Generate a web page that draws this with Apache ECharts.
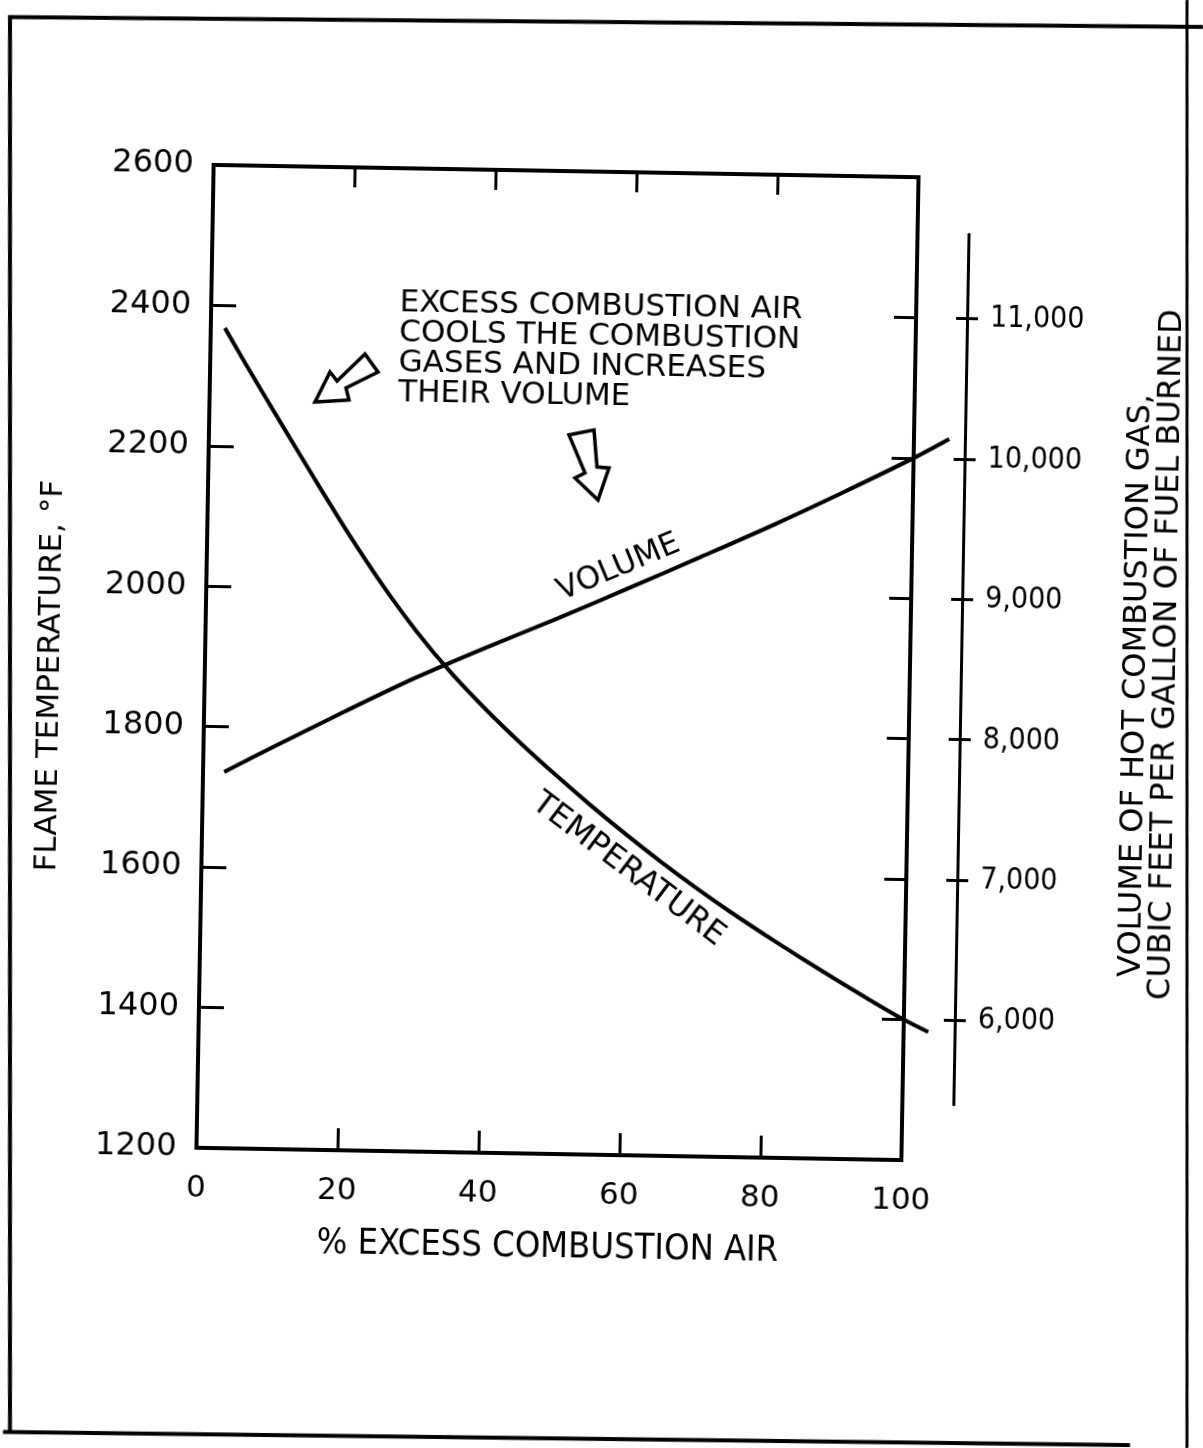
<!DOCTYPE html>
<html>
<head>
<meta charset="utf-8">
<script src="https://cdn.jsdelivr.net/npm/echarts@6/dist/echarts.min.js"></script>
<style>
  html, body { margin: 0; padding: 0; background: #fff; overflow: hidden; }
  /* the printed sheet sits at a slight clockwise tilt */
  #chart {
    position: absolute; left: -40px; top: -40px;
    width: 1283px; height: 1528px;
    transform: rotate(1deg);
    transform-origin: 597.5px 702.5px;
  }
</style>
</head>
<body>
<div id="chart"></div>
<script>
// Flame temperature (°F) against % excess combustion air
const tempAir = [2, 5, 10, 15, 20, 25, 30, 35, 40, 45, 50, 55, 60, 65, 70, 75, 80, 85, 90, 95, 100, 103.5];
const flameTemp = [2368, 2318, 2237, 2157, 2079, 2006, 1940, 1882, 1831, 1784, 1740, 1698, 1658, 1620, 1584, 1550, 1518, 1487, 1457, 1428, 1400, 1383];

// Volume of hot combustion gas (cu ft per gallon of fuel burned) against % excess air
const volAir = [3, 10, 20, 30, 40, 50, 60, 70, 80, 90, 100, 105];
const gasVolume = [7680, 7866, 8126, 8376, 8601, 8816, 9040, 9268, 9500, 9745, 10000, 10140];

// Axis scales and tick values
const airRange = [0, 100];
const airStep = 20;
const airDrawnMax = 110;          // curves run on a little past the 100 % line
const tempRange = [1200, 2600];
const tempStep = 200;
const volRange = [5000, 12000];
const volStep = 1000;
const volumeTicks = [6000, 7000, 8000, 9000, 10000, 11000];
const volumeAxisSpan = [5400, 11600];

const annotation = ['EXCESS COMBUSTION AIR', 'COOLS THE COMBUSTION', 'GASES AND INCREASES', 'THEIR VOLUME'];
const volumeTitle = ['VOLUME OF HOT COMBUSTION GAS,', 'CUBIC FEET PER GALLON OF FUEL BURNED'];

const SANS = '"DejaVu Sans", sans-serif';
const COND = '"DejaVu Sans Condensed", "Liberation Sans Narrow", "DejaVu Sans", sans-serif';
const INK = '#000';

// canvas is padded past the window so the tilted sheet still covers every corner
const PAD = 40;
const TILT = 1 * Math.PI / 180;
const PIVOT = [557.5, 662.5];
// window position -> canvas position (undoes the tilt)
function toCanvas(p) {
  const dx = p[0] - PIVOT[0], dy = p[1] - PIVOT[1];
  const c = Math.cos(TILT), s = Math.sin(TILT);
  return [PIVOT[0] + dx * c + dy * s + PAD, PIVOT[1] - dx * s + dy * c + PAD];
}

const GRID = { left: 205 + PAD, top: 171 + PAD, width: 705, height: 983 };
// the separate volume scale spans only part of the plot height
const volSpanTop = GRID.top + GRID.height * (volRange[1] - volumeAxisSpan[1]) / (volRange[1] - volRange[0]);
const volSpanHeight = GRID.height * (volumeAxisSpan[1] - volumeAxisSpan[0]) / (volRange[1] - volRange[0]);

const tickStyle = { color: INK, width: 3 };
const hiddenAxis = { show: false, axisLine: { onZero: false } };

const chart = echarts.init(document.getElementById('chart'));

chart.setOption({
  backgroundColor: '#fff',
  animation: false,
  grid: [
    // plot frame
    Object.assign({ show: true, borderColor: INK, borderWidth: 4, backgroundColor: 'transparent' }, GRID),
    // outer volume scale
    { left: GRID.left, width: GRID.width, top: volSpanTop, height: volSpanHeight, show: false },
    // same scales as the frame, widened so the curves may overrun it
    {
      left: GRID.left, top: GRID.top, height: GRID.height,
      width: GRID.width * (airDrawnMax - airRange[0]) / (airRange[1] - airRange[0]), show: false
    }
  ],
  xAxis: [
    {
      gridIndex: 0, type: 'value', position: 'bottom',
      min: airRange[0], max: airRange[1], interval: airStep,
      axisLine: { show: false, onZero: false },
      axisTick: { show: true, inside: true, length: 22, lineStyle: tickStyle },
      splitLine: { show: false },
      axisLabel: { color: INK, fontFamily: SANS, fontSize: 31, margin: 25 },
      name: '% EXCESS COMBUSTION AIR', nameLocation: 'middle', nameGap: 76,
      nameTextStyle: { color: INK, fontFamily: COND, fontSize: 36 }
    },
    {
      gridIndex: 0, type: 'value', position: 'top',
      min: airRange[0], max: airRange[1], interval: airStep,
      axisLine: { show: false, onZero: false },
      axisTick: { show: true, inside: true, length: 20, lineStyle: tickStyle },
      splitLine: { show: false },
      axisLabel: { show: false }
    },
    Object.assign({ gridIndex: 1, type: 'value', min: airRange[0], max: airRange[1] }, hiddenAxis),
    Object.assign({ gridIndex: 2, type: 'value', min: airRange[0], max: airDrawnMax }, hiddenAxis)
  ],
  yAxis: [
    {
      gridIndex: 0, type: 'value', position: 'left',
      min: tempRange[0], max: tempRange[1], interval: tempStep,
      axisLine: { show: false, onZero: false },
      axisTick: { show: true, inside: true, length: 25, lineStyle: tickStyle },
      splitLine: { show: false },
      axisLabel: { color: INK, fontFamily: SANS, fontSize: 32, margin: 20, formatter: v => String(v) },
      name: 'FLAME TEMPERATURE, °F', nameLocation: 'middle', nameRotate: 90, nameGap: 139,
      nameTextStyle: { color: INK, fontFamily: SANS, fontSize: 31, padding: [0, 44, 0, 0] }
    },
    {
      gridIndex: 0, type: 'value', position: 'right',
      min: volRange[0], max: volRange[1], interval: volStep,
      axisLine: { show: false, onZero: false },
      axisTick: { show: true, inside: true, length: 22, lineStyle: tickStyle },
      splitLine: { show: false },
      axisLabel: { show: false }
    },
    {
      gridIndex: 1, type: 'value', position: 'right', offset: 51,
      min: volumeAxisSpan[0], max: volumeAxisSpan[1],
      axisLine: { show: true, onZero: false, lineStyle: { color: INK, width: 3 } },
      axisTick: { show: true, inside: true, length: 11, customValues: volumeTicks, lineStyle: tickStyle },
      splitLine: { show: false },
      axisLabel: {
        color: INK, fontFamily: COND, fontSize: 30, margin: 23, customValues: volumeTicks,
        formatter: v => v.toLocaleString('en-US')
      }
    },
    {
      gridIndex: 1, type: 'value', position: 'right', offset: 51,
      min: volumeAxisSpan[0], max: volumeAxisSpan[1],
      axisLine: { show: false, onZero: false },
      axisTick: { show: true, inside: false, length: 11, customValues: volumeTicks, lineStyle: tickStyle },
      splitLine: { show: false },
      axisLabel: { show: false }
    },
    Object.assign({ gridIndex: 2, type: 'value', min: tempRange[0], max: tempRange[1] }, hiddenAxis),
    Object.assign({ gridIndex: 2, type: 'value', min: volRange[0], max: volRange[1] }, hiddenAxis)
  ],
  series: [
    {
      name: 'Temperature', type: 'line', xAxisIndex: 3, yAxisIndex: 4,
      data: tempAir.map((x, i) => [x, flameTemp[i]]),
      smooth: 0.3, showSymbol: false, clip: false, silent: true,
      lineStyle: { color: INK, width: 4 }
    },
    {
      name: 'Volume', type: 'line', xAxisIndex: 3, yAxisIndex: 5,
      data: volAir.map((x, i) => [x, gasVolume[i]]),
      smooth: 0.3, showSymbol: false, clip: false, silent: true,
      lineStyle: { color: INK, width: 4 }
    }
  ]
});

// Curve captions sit alongside the curves they name
const volPt = chart.convertToPixel({ seriesIndex: 1 }, [volAir[6], gasVolume[6]]);
const tempPt = chart.convertToPixel({ seriesIndex: 0 }, [tempAir[12], flameTemp[12]]);

function frameLine(points, width) {
  return { type: 'polyline', shape: { points: points.map(toCanvas) }, style: { stroke: INK, lineWidth: width, fill: 'none' }, silent: true };
}
function hollowArrow(points) {
  return { type: 'polygon', shape: { points: points.map(toCanvas) }, style: { fill: 'none', stroke: INK, lineWidth: 3.5, lineJoin: 'miter' }, silent: true };
}
function uprightText(text, at) {
  const p = toCanvas(at);
  return {
    type: 'text', x: p[0], y: p[1], rotation: Math.PI / 2, silent: true,
    style: { text: text, font: '32px ' + SANS, fill: INK, textAlign: 'left', textVerticalAlign: 'middle' }
  };
}

const notePos = toCanvas([400, 288]);

chart.setOption({
  graphic: [
    // sheet frame
    frameLine([[10, 1432], [10, 17], [1203, 27]], 4),
    frameLine([[3, 1432], [1130, 1445]], 4),
    frameLine([[1187, 0], [1187, 1448]], 3),
    // explanatory note
    {
      type: 'text', x: notePos[0], y: notePos[1], silent: true,
      style: { text: annotation.join('\n'), font: '31px ' + SANS, fill: INK, textAlign: 'left', textVerticalAlign: 'top', lineHeight: 30 }
    },
    // arrow towards the temperature curve
    hollowArrow([[315, 402], [330, 372], [337, 381], [365, 354], [378, 372], [346, 388], [349, 400]]),
    // arrow towards the volume curve
    hollowArrow([[569, 435], [594, 430], [597, 467], [609, 468], [598, 500], [575, 478], [585, 473]]),
    {
      type: 'text', x: volPt[0] - 11, y: volPt[1] - 20, rotation: 23.7 * Math.PI / 180, silent: true,
      style: { text: 'VOLUME', font: '31px ' + SANS, fill: INK, textAlign: 'center', textVerticalAlign: 'middle' }
    },
    {
      type: 'text', x: tempPt[0] + 4, y: tempPt[1] + 36, rotation: -36 * Math.PI / 180, silent: true,
      style: { text: 'TEMPERATURE', font: '32px ' + SANS, fill: INK, textAlign: 'center', textVerticalAlign: 'middle' }
    },
    // title of the separate volume scale, two lines
    uprightText(volumeTitle[0], [1131, 977]),
    uprightText(volumeTitle[1], [1161, 1000])
  ]
});
</script>
</body>
</html>
